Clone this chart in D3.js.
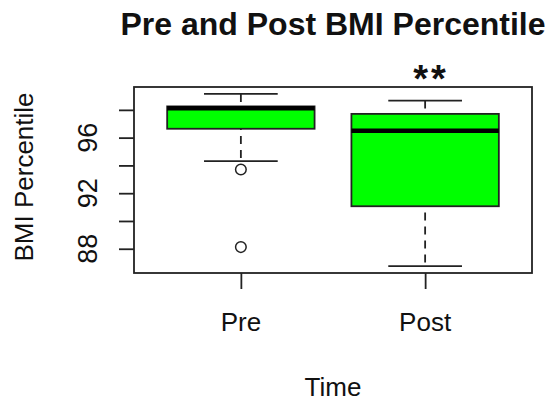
<!DOCTYPE html>
<html>
<head>
<meta charset="utf-8">
<script src="https://cdn.jsdelivr.net/npm/d3@7"></script>
<style>
  body { margin: 0; background: #fff; }
  text { font-family: "Liberation Sans", Arial, sans-serif; fill: #111; }
</style>
</head>
<body>
<div id="chart"></div>
<script>
// box stats
const groups = ['Pre', 'Post'];
const lowWhisker = [94.31, 86.75];
const q1 = [96.64, 91.06];
const median = [98.12, 96.5];
const q3 = [98.25, 97.71];
const highWhisker = [99.15, 98.67];
const outliers = [[93.71, 88.12], []];
const yTicks = [88, 90, 92, 94, 96, 98];
const yLabels = [88, 92, 96];

const width = 550;
const height = 402;
const margin = {top: 87, right: 18, bottom: 129, left: 134};

const svg = d3.select('#chart').append('svg')
    .attr('width', width)
    .attr('height', height);

// R style 4% padding on both axes
const lo = d3.min(lowWhisker.concat(outliers.flat()));
const hi = d3.max(highWhisker);
const pad = (hi - lo) * 0.04;

const y = d3.scaleLinear()
    .domain([lo - pad, hi + pad])
    .range([height - margin.bottom, margin.top]);

const x = d3.scaleLinear()
    .domain([0.42, groups.length + 0.58])
    .range([margin.left, width - margin.right]);

const boxW = x(0.8) - x(0);

// plot frame
svg.append('rect')
    .attr('x', margin.left)
    .attr('y', margin.top)
    .attr('width', width - margin.right - margin.left)
    .attr('height', height - margin.bottom - margin.top)
    .attr('fill', 'none')
    .attr('stroke', '#222')
    .attr('stroke-width', 1.8);

// y axis
svg.append('g')
    .attr('transform', `translate(${margin.left},0)`)
    .call(d3.axisLeft(y).tickValues(yTicks).tickSize(15).tickFormat(''))
    .call(g => g.select('.domain').remove())
    .call(g => g.selectAll('.tick line').attr('stroke', '#222').attr('stroke-width', 1.8));

svg.append('g')
    .selectAll('text')
    .data(yLabels)
    .join('text')
        .attr('transform', d => `translate(97,${y(d)}) rotate(-90)`)
        .attr('text-anchor', 'middle')
        .attr('font-size', '27px')
        .text(d => d);

// x axis
svg.append('g')
    .attr('transform', `translate(0,${height - margin.bottom})`)
    .call(d3.axisBottom(x).tickValues(groups.map((d, i) => i + 1)).tickSize(16).tickFormat(''))
    .call(g => g.select('.domain').remove())
    .call(g => g.selectAll('.tick line').attr('stroke', '#222').attr('stroke-width', 1.8));

svg.append('g')
    .selectAll('text')
    .data(groups)
    .join('text')
        .attr('x', (d, i) => x(i + 1))
        .attr('y', 331)
        .attr('text-anchor', 'middle')
        .attr('font-size', '26px')
        .text(d => d);

// boxes
const boxes = svg.append('g')
    .selectAll('g')
    .data(groups)
    .join('g');

boxes.append('line')
    .attr('x1', (d, i) => x(i + 1))
    .attr('x2', (d, i) => x(i + 1))
    .attr('y1', (d, i) => y(highWhisker[i]))
    .attr('y2', (d, i) => y(lowWhisker[i]))
    .attr('stroke', '#222')
    .attr('stroke-width', 1.8)
    .attr('stroke-dasharray', '8,6');

boxes.append('line')
    .attr('x1', (d, i) => x(i + 1) - boxW / 4)
    .attr('x2', (d, i) => x(i + 1) + boxW / 4)
    .attr('y1', (d, i) => y(highWhisker[i]))
    .attr('y2', (d, i) => y(highWhisker[i]))
    .attr('stroke', '#222')
    .attr('stroke-width', 1.8);

boxes.append('line')
    .attr('x1', (d, i) => x(i + 1) - boxW / 4)
    .attr('x2', (d, i) => x(i + 1) + boxW / 4)
    .attr('y1', (d, i) => y(lowWhisker[i]))
    .attr('y2', (d, i) => y(lowWhisker[i]))
    .attr('stroke', '#222')
    .attr('stroke-width', 1.8);

boxes.append('rect')
    .attr('x', (d, i) => x(i + 1) - boxW / 2)
    .attr('width', boxW)
    .attr('y', (d, i) => y(q3[i]))
    .attr('height', (d, i) => y(q1[i]) - y(q3[i]))
    .attr('fill', '#00ff00')
    .attr('stroke', '#222')
    .attr('stroke-width', 1.8);

boxes.append('line')
    .attr('x1', (d, i) => x(i + 1) - boxW / 2)
    .attr('x2', (d, i) => x(i + 1) + boxW / 2)
    .attr('y1', (d, i) => y(median[i]))
    .attr('y2', (d, i) => y(median[i]))
    .attr('stroke', '#000')
    .attr('stroke-width', 4.5);

boxes.selectAll('circle')
    .data((d, i) => outliers[i].map(v => ({v, i})))
    .join('circle')
        .attr('cx', d => x(d.i + 1))
        .attr('cy', d => y(d.v))
        .attr('r', 5.3)
        .attr('fill', 'none')
        .attr('stroke', '#222')
        .attr('stroke-width', 1.5);

// significance mark
svg.append('text')
    .attr('x', x(2) + 6)
    .attr('y', 92)
    .attr('text-anchor', 'middle')
    .attr('font-size', '38px')
    .attr('font-weight', 'bold')
    .attr('letter-spacing', '3px')
    .text('**');

// titles
svg.append('text')
    .attr('x', 333)
    .attr('y', 35)
    .attr('text-anchor', 'middle')
    .attr('font-size', '32px')
    .attr('font-weight', 'bold')
    .text('Pre and Post BMI Percentile');

svg.append('text')
    .attr('x', 333)
    .attr('y', 396)
    .attr('text-anchor', 'middle')
    .attr('font-size', '26px')
    .text('Time');

svg.append('text')
    .attr('transform', `translate(33,${(margin.top + height - margin.bottom) / 2 - 3}) rotate(-90)`)
    .attr('text-anchor', 'middle')
    .attr('font-size', '26px')
    .text('BMI Percentile');
</script>
</body>
</html>
